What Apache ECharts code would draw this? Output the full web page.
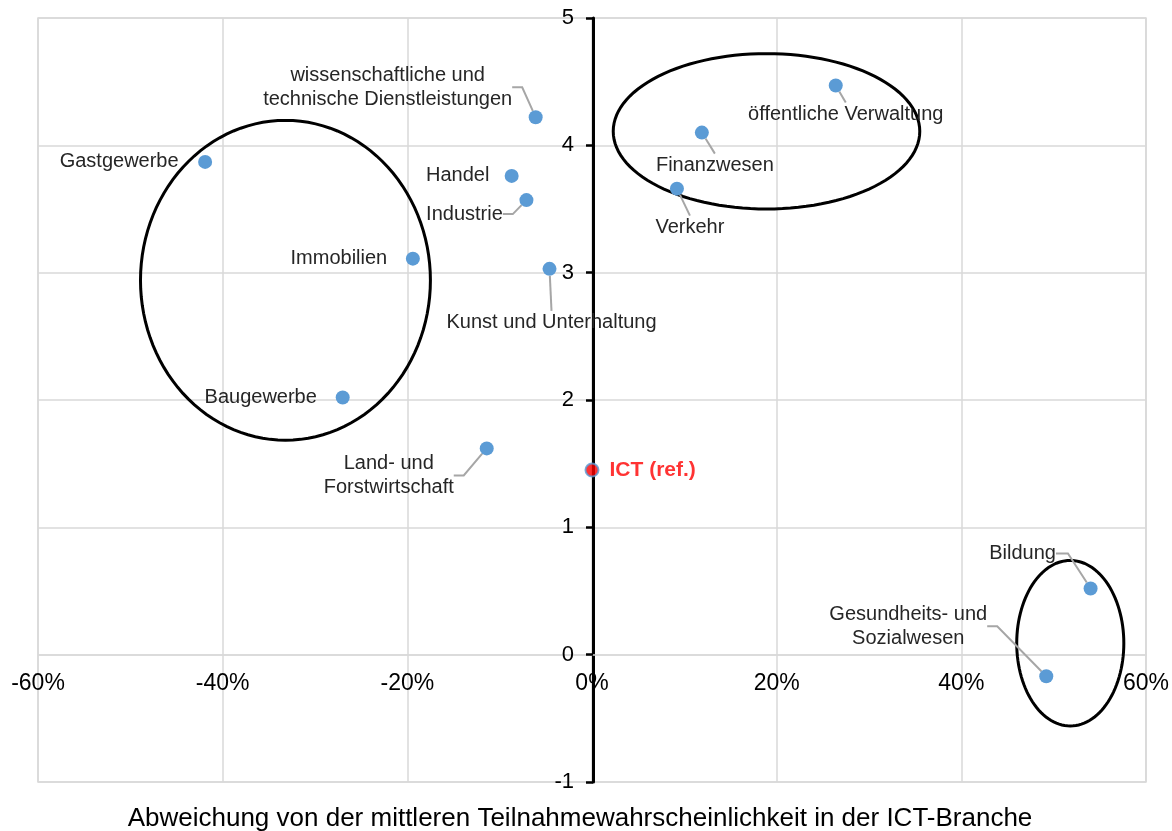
<!DOCTYPE html>
<html><head><meta charset="utf-8">
<script src="https://cdn.jsdelivr.net/npm/echarts@6/dist/echarts.min.js"></script>
<style>html,body{margin:0;padding:0;background:#fff}#c{width:1172px;height:831px}</style>
</head><body><div id="c"></div>
<script>
// Data
const names = ['Gastgewerbe','Immobilien','Baugewerbe','Land- und\nForstwirtschaft','wissenschaftliche und\ntechnische Dienstleistungen','Handel','Industrie','Kunst und Unterhaltung','Verkehr','Finanzwesen','öffentliche Verwaltung','Bildung','Gesundheits- und\nSozialwesen'];
const xVals = [-41.9, -19.4, -27.0, -11.4, -6.1, -8.7, -7.1, -4.6, 9.2, 11.9, 26.4, 54.0, 49.2];
const yVals = [3.87, 3.11, 2.02, 1.62, 4.22, 3.76, 3.57, 3.03, 3.66, 4.10, 4.47, 0.52, -0.17];
const refName = 'ICT (ref.)';
const refX = [0];
const refY = [1.45];
// ellipse annotations: centre x, centre y, radius x, radius y (data units)
const ellCx = [-33.2, 18.9, 51.8];
const ellCy = [2.94, 4.11, 0.09];
const ellRx = [15.7, 16.6, 5.8];
const ellRy = [1.256, 0.61, 0.65];
const xTicks = {min: -60, max: 60, interval: 20};
const yTicks = {min: -1, max: 5, interval: 1};
const xTitle = 'Abweichung von der mittleren Teilnahmewahrscheinlichkeit in der ICT-Branche';

// label placement (style, pixels): dx, dy from point, leader line?, elbow length
const labelOffsets = [
  [-86, 0, false, 0], [-74, 0, false, 0], [-82, 0, false, 0], [-98, 27, true, 10], [-148, -30, true, 10],
  [-54, 0, false, 0], [-62, 14, true, 10], [2, 54, true, 0], [13, 39, true, 0], [13, 33, true, 0],
  [10, 29, true, 0], [-68, -35, true, 12], [-138, -50, true, 10]
];

const FONT = 'Liberation Sans, Arial, sans-serif';
const W = 1172, H = 831;
const G = {left: 38, right: 24, top: 18, bottom: 49};
const gw = W - G.left - G.right, gh = H - G.top - G.bottom;
// move axes to the zero lines
const yOff = -gw * (0 - xTicks.min) / (xTicks.max - xTicks.min);
const xOff = -gh * (0 - yTicks.min) / (yTicks.max - yTicks.min);

const chart = echarts.init(document.getElementById('c'));
const pts = names.map((n, i) => ({
  name: n, value: [xVals[i], yVals[i]],
  labelLine: {show: labelOffsets[i][2], length2: labelOffsets[i][3]}
}));
const ellipses = ellCx.map((c, i) => [c, ellCy[i], ellRx[i], ellRy[i]]);

chart.setOption({
  animation: false,
  title: {text: xTitle, left: 575, top: 801, textAlign: 'center',
    textStyle: {fontFamily: FONT, fontSize: 26, fontWeight: 'normal', color: '#000'}},
  grid: Object.assign({show: true, borderColor: '#d9d9d9', borderWidth: 1.5}, G),
  xAxis: {type: 'value', min: xTicks.min, max: xTicks.max, interval: xTicks.interval,
    offset: xOff,
    axisLine: {onZero: false, lineStyle: {color: '#d9d9d9', width: 1.5}},
    axisTick: {show: false},
    axisLabel: {formatter: '{value}%', fontFamily: FONT, fontSize: 23, color: '#000', margin: 17},
    splitLine: {lineStyle: {color: '#d9d9d9', width: 1.5}}},
  yAxis: {type: 'value', min: yTicks.min, max: yTicks.max, interval: yTicks.interval,
    offset: yOff,
    axisLine: {onZero: false, lineStyle: {color: '#000', width: 3}},
    axisTick: {show: true, length: 7, lineStyle: {color: '#000', width: 2.5}},
    axisLabel: {fontFamily: FONT, fontSize: 22, color: '#000', margin: 19},
    splitLine: {lineStyle: {color: '#d9d9d9', width: 1.5}}},
  series: [
    {type: 'custom', coordinateSystem: 'cartesian2d', data: ellipses, silent: true, z: 3,
      renderItem: function (params, api) {
        const c = api.coord([api.value(0), api.value(1)]);
        const s = api.size([api.value(2), api.value(3)]);
        const p = [];
        for (let k = 0; k <= 120; k++) {
          const t = k / 120 * Math.PI * 2;
          p.push([c[0] + s[0] * Math.cos(t), c[1] + s[1] * Math.sin(t)]);
        }
        return {type: 'polygon', shape: {points: p}, style: {fill: 'none', stroke: '#000', lineWidth: 3}};
      }},
    {type: 'scatter', data: pts, symbolSize: 14, z: 4,
      itemStyle: {color: '#5b9bd5', opacity: 1},
      label: {show: true, position: 'inside', formatter: '{b}', fontFamily: FONT, fontSize: 20,
        color: '#262626', lineHeight: 24, align: 'center', verticalAlign: 'middle'},
      labelLine: {show: true, length2: 10, lineStyle: {color: '#a6a6a6', width: 2}},
      labelLayout: function (p) {
        const o = labelOffsets[p.dataIndex];
        return {dx: o[0], dy: o[1]};
      }},
    {type: 'scatter', data: refX.map((x, i) => ({name: refName, value: [x, refY[i]]})), symbolSize: 13, z: 5,
      itemStyle: {color: '#ff0000', borderColor: '#5b9bd5', borderWidth: 2},
      label: {show: true, position: 'right', distance: 10, formatter: '{b}', fontFamily: FONT,
        fontSize: 21, fontWeight: 'bold', color: '#ff0000'}}
  ]
});
</script></body></html>
